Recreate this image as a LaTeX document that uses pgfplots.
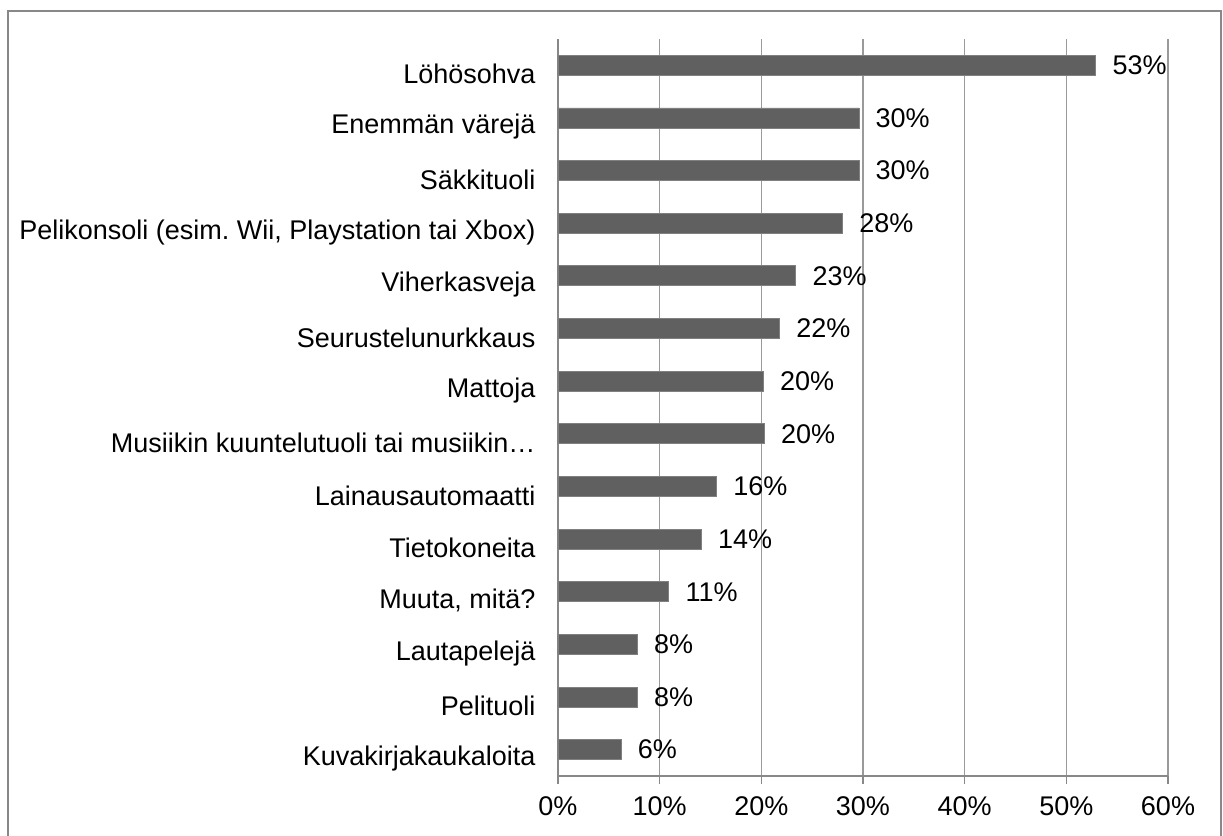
\documentclass[border=0pt]{standalone}
\usepackage{pgfplots}
\pgfplotsset{compat=1.18}
\usepackage{fontspec}
\setmainfont{Liberation Sans}
\definecolor{barc}{HTML}{606060}
\definecolor{gridc}{HTML}{9A9A9A}
\definecolor{axc}{HTML}{888888}
\begin{document}
\frenchspacing
\begin{tikzpicture}[x=1pt,y=1pt]
\path[use as bounding box] (-558,-59) rectangle (665,776);
\draw[axc, line width=2pt] (-550,-62) -- (-550,765) -- (663,765) -- (663,-62);
\begin{axis}[
  at={(0,0)}, anchor=south west,
  scale only axis, width=610pt, height=737pt,
  xmin=0, xmax=60, ymin=-0.5, ymax=13.5,
  y dir=reverse,
  axis x line*=bottom, axis y line*=left,
  axis line style={axc, line width=1.6pt, -},
  xtick={0,10,...,60},
  xticklabels={0\%,10\%,20\%,30\%,40\%,50\%,60\%},
  ytick={0,...,13},
  yticklabels={Löhösohva,Enemmän värejä,Säkkituoli,{Pelikonsoli (esim.\ Wii, Playstation tai Xbox)},Viherkasveja,Seurustelunurkkaus,Mattoja,Musiikin kuuntelutuoli tai musiikin…,Lainausautomaatti,Tietokoneita,{Muuta, mitä?},Lautapelejä,Pelituoli,Kuvakirjakaukaloita},
  minor ytick={-0.5,0.5,...,13.5},
  tick align=outside,
  major tick length=8pt, minor tick length=8pt,
  every tick/.style={axc, line width=1.6pt},
  ytick style={draw=none},
  minor tick style={axc, line width=1.6pt},
  xmajorgrids, major grid style={gridc, line width=1.6pt},
  x tick label style={yshift=-9pt},
  y tick label style={xshift=-11pt, yshift=-9pt},
  tick label style={font=\fontsize{27}{31}\selectfont},
  xbar, bar width=20pt,
  nodes near coords,
  point meta=explicit symbolic,
  every node near coord/.append style={anchor=west, xshift=13pt, font=\fontsize{27}{31}\selectfont, black},
  clip=false,
]
\addplot[fill=barc, draw=barc!80!white, line width=0.8pt] coordinates {
(52.9,0) [53\%]
(29.6,1) [30\%]
(29.6,2) [30\%]
(28.0,3) [28\%]
(23.4,4) [23\%]
(21.8,5) [22\%]
(20.2,6) [20\%]
(20.3,7) [20\%]
(15.6,8) [16\%]
(14.1,9) [14\%]
(10.9,10) [11\%]
(7.8,11) [8\%]
(7.8,12) [8\%]
(6.2,13) [6\%]
};
\end{axis}
\end{tikzpicture}
\end{document}
